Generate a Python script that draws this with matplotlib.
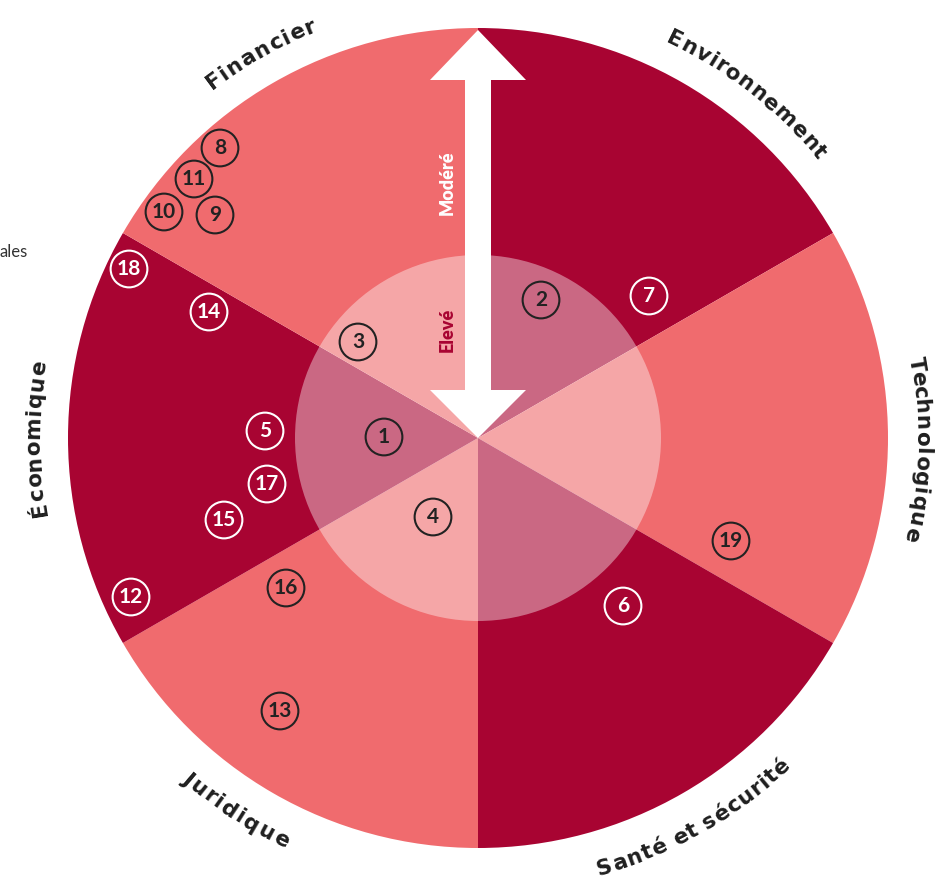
import numpy as np
import matplotlib
matplotlib.use('Agg')
import matplotlib.pyplot as plt
from matplotlib.patches import Wedge, Circle, Polygon
from matplotlib.font_manager import FontProperties
from matplotlib.textpath import TextToPath

# Catégories de risques (secteurs de 60°, sens horaire depuis le haut)
categories = ["Environnement", "Technologique", "Santé et sécurité",
              "Juridique", "Économique", "Financier"]
sector_start = [30, -30, -90, -150, 150, 90]
sector_dark = [True, False, True, False, True, False]

# Positions des libellés autour du cercle
label_angle = [52, -1.5, -60.5, -123, 180, 119.5]
label_length = [198, 188, 220, 124, 158, 124]
label_outward = [True, True, False, False, True, True]

# Risques numérotés (x, y en px depuis le centre)
risk_id = [1, 2, 3, 4, 5, 6, 7, 8, 9, 10, 11, 12, 13, 14, 15, 16, 17, 18, 19]
risk_x = [-94, 63, -120, -45, -213, 145, 171, -258, -263, -314, -284,
          -347, -198, -269, -254, -192, -211, -349, 253]
risk_y = [1, 138, 96, -79, 7, -168, 142, 290, 223, 226, 259,
          -159, -273, 126, -82, -150, -46, 169, -103]

R_OUT = 410
R_IN = 183
DARK = '#a80432'
LIGHT = '#f06b6e'
TXT = '#1f1f1f'
FONT = ['Lato', 'DejaVu Sans']

fig = plt.figure(figsize=(9.49, 8.82), dpi=100)
ax = fig.add_axes([0, 0, 1, 1])
ax.set_xlim(-478, 471)
ax.set_ylim(-444, 438)
ax.axis('off')

for start, dark in zip(sector_start, sector_dark):
    ax.add_patch(Wedge((0, 0), R_OUT, start, start + 60,
                       facecolor=DARK if dark else LIGHT, edgecolor='none'))

# zone "Elevé" : voile blanc sur le centre
ax.add_patch(Circle((0, 0), R_IN, facecolor='white', alpha=0.4,
                    edgecolor='none', zorder=2))

# double flèche Modéré / Elevé
arrow = [(0, 408), (48, 358), (13, 358), (13, 48), (48, 48), (0, 0),
         (-48, 48), (-13, 48), (-13, 358), (-48, 358)]
ax.add_patch(Polygon(arrow, closed=True, facecolor='white',
                     edgecolor='none', zorder=3))
ax.text(-31, 255, "Modéré", rotation=90, ha='center', va='center',
        color='white', fontsize=13, fontweight='heavy', family=FONT,
        zorder=4)
ax.text(-31, 108, "Elevé", rotation=90, ha='center', va='center',
        color=DARK, fontsize=13, fontweight='heavy', family=FONT,
        zorder=4)

# cercles numérotés
rx = np.array(risk_x)
ry = np.array(risk_y)
rr = np.hypot(rx, ry)
ang = np.degrees(np.arctan2(ry, rx)) % 360
on_dark = []
for r, a in zip(rr, ang):
    dk = False
    if r > R_IN:
        for start, dark in zip(sector_start, sector_dark):
            if (a - start) % 360 < 60:
                dk = dark
    on_dark.append(dk)
edge = ['white' if d else '#222222' for d in on_dark]
ax.scatter(rx, ry, s=700, facecolors='none', edgecolors=edge,
           linewidths=1.5, zorder=5)
for x, y, n, c in zip(rx, ry, risk_id, edge):
    ax.text(x, y, str(n), ha='center', va='center', color=c,
            fontsize=15, fontweight='bold', family=FONT, zorder=6)

# libellés courbés le long du cercle
fp = FontProperties(family='DejaVu Sans', weight='bold', size=15.5)
ttp = TextToPath()
PX = 100 / 72


def width(s):
    w, _, _ = ttp.get_text_width_height_descent(s + '|', fp, ismath=False)
    w0, _, _ = ttp.get_text_width_height_descent('|', fp, ismath=False)
    return (w - w0) * PX


R_TXT = 446
cap = 0.73 * 15.5 * PX
for name, a0, length, outward in zip(categories, label_angle,
                                     label_length, label_outward):
    cum = [width(name[:i]) for i in range(len(name) + 1)]
    total = cum[-1]
    k = length / total
    for i, ch in enumerate(name):
        if ch == ' ':
            continue
        s = ((cum[i] + cum[i + 1]) / 2 - total / 2) * k
        if outward:
            th = np.radians(a0) - s / R_TXT
            rb = R_TXT - cap / 2
            rot = np.degrees(th) - 90
        else:
            th = np.radians(a0) + s / R_TXT
            rb = R_TXT + cap / 2
            rot = np.degrees(th) + 90
        ax.text(rb * np.cos(th), rb * np.sin(th), ch, rotation=rot,
                rotation_mode='anchor', ha='center', va='baseline',
                fontproperties=fp, color=TXT)

# fin du libellé de légende coupé à gauche
ax.text(-478, 186, "ales", ha='left', va='center', fontsize=12,
        color='#333333', family=FONT)

fig.savefig('out.png', dpi=100)
